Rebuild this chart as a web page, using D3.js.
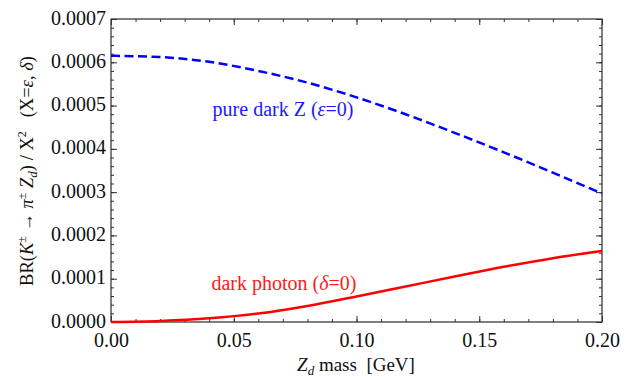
<!DOCTYPE html>
<html>
<head>
<meta charset="utf-8">
<script src="https://cdn.jsdelivr.net/npm/d3@7"></script>
<style>
  body { margin: 0; background: #fff; }
  text { font-family: "Liberation Serif", "Times New Roman", "DejaVu Serif", serif; }
</style>
</head>
<body>
<svg id="drawing_region"></svg>
<script>
// Z_d mass [GeV]
const mass = [0.00, 0.02, 0.04, 0.06, 0.08, 0.10, 0.12, 0.14, 0.16, 0.18, 0.20];
// pure dark Z (eps = 0)
const dark_z = [0.000615, 0.000612, 0.000601, 0.000580, 0.000553, 0.000519, 0.000480, 0.000437, 0.000392, 0.000345, 0.000297];
// dark photon (delta = 0)
const dark_photon = [0.0, 0.0000025, 0.0000085, 0.0000195, 0.0000370, 0.0000590, 0.0000820, 0.0001050, 0.0001275, 0.0001475, 0.0001640];

const x_ticks = [0.00, 0.05, 0.10, 0.15, 0.20];
const y_ticks = [0.0000, 0.0001, 0.0002, 0.0003, 0.0004, 0.0005, 0.0006, 0.0007];

const config = {
    width: 642,
    height: 377,
    margin: { top: 19, right: 40, bottom: 55, left: 111 }
};

const svg = d3.select( '#drawing_region' )
    .attr( 'width', config.width )
    .attr( 'height', config.height );

const chart = svg.append( 'g' )
    .attr( 'transform', `translate(${config.margin.left}, ${config.margin.top})` );

const inner_width = config.width - config.margin.left - config.margin.right;
const inner_height = config.height - config.margin.top - config.margin.bottom;

const xscale = d3.scaleLinear()
    .domain( [ 0, 0.2 ] )
    .range( [ 0, inner_width ] );

const yscale = d3.scaleLinear()
    .domain( [ 0, 0.0007 ] )
    .range( [ inner_height, 0 ] );

const x_minor = d3.range( 0, 21 ).map( i => i * 0.01 );
const y_minor = d3.range( 0, 36 ).map( i => i * 0.00002 );

// frame
chart.append( 'rect' )
    .attr( 'width', inner_width )
    .attr( 'height', inner_height )
    .attr( 'fill', 'none' )
    .attr( 'stroke', '#000' )
    .attr( 'stroke-width', 1 );

function styleAxis( g ) {
    g.attr( 'font-family', null );
    g.select( '.domain' ).remove();
    g.selectAll( '.tick line' ).attr( 'stroke', '#333' ).attr( 'stroke-width', 1 );
    g.selectAll( 'text' )
        .attr( 'font-size', 20 )
        .attr( 'fill', '#111' );
}

// bottom
chart.append( 'g' )
    .attr( 'transform', `translate(0, ${inner_height})` )
    .call( d3.axisBottom( xscale ).tickValues( x_minor ).tickSize( -3 ).tickFormat( '' ) )
    .call( styleAxis );
chart.append( 'g' )
    .attr( 'transform', `translate(0, ${inner_height})` )
    .call( d3.axisBottom( xscale ).tickValues( x_ticks ).tickSize( -6 ).tickPadding( 8 ).tickFormat( d3.format( '.2f' ) ) )
    .call( styleAxis )
    .selectAll( 'text' ).attr( 'dy', '0.85em' );

// top
chart.append( 'g' )
    .call( d3.axisTop( xscale ).tickValues( x_minor ).tickSize( -3 ).tickFormat( '' ) )
    .call( styleAxis );
chart.append( 'g' )
    .call( d3.axisTop( xscale ).tickValues( x_ticks ).tickSize( -6 ).tickFormat( '' ) )
    .call( styleAxis );

// left
chart.append( 'g' )
    .call( d3.axisLeft( yscale ).tickValues( y_minor ).tickSize( -3 ).tickFormat( '' ) )
    .call( styleAxis );
chart.append( 'g' )
    .call( d3.axisLeft( yscale ).tickValues( y_ticks ).tickSize( -6 ).tickPadding( 5 ).tickFormat( d3.format( '.4f' ) ) )
    .call( styleAxis )
    .selectAll( 'text' ).attr( 'dy', '0.25em' );

// right
chart.append( 'g' )
    .attr( 'transform', `translate(${inner_width}, 0)` )
    .call( d3.axisRight( yscale ).tickValues( y_minor ).tickSize( -3 ).tickFormat( '' ) )
    .call( styleAxis );
chart.append( 'g' )
    .attr( 'transform', `translate(${inner_width}, 0)` )
    .call( d3.axisRight( yscale ).tickValues( y_ticks ).tickSize( -6 ).tickFormat( '' ) )
    .call( styleAxis );

// curves
const line = d3.line()
    .x( d => xscale( d[0] ) )
    .y( d => yscale( d[1] ) )
    .curve( d3.curveMonotoneX );

chart.append( 'path' )
    .datum( mass.map( ( m, i ) => [ m, dark_z[i] ] ) )
    .attr( 'd', line )
    .attr( 'fill', 'none' )
    .attr( 'stroke', '#0000ff' )
    .attr( 'stroke-width', 2.5 )
    .attr( 'stroke-dasharray', '9,4.5' );

chart.append( 'path' )
    .datum( mass.map( ( m, i ) => [ m, dark_photon[i] ] ) )
    .attr( 'd', line )
    .attr( 'fill', 'none' )
    .attr( 'stroke', '#ff0000' )
    .attr( 'stroke-width', 2.5 );

// annotations
svg.append( 'text' )
    .attr( 'x', 283 )
    .attr( 'y', 116 )
    .attr( 'text-anchor', 'middle' )
    .attr( 'font-size', 20 )
    .attr( 'fill', '#1a1aff' )
    .html( 'pure dark Z (<tspan font-style="italic">ε</tspan>=0)' );

svg.append( 'text' )
    .attr( 'x', 284 )
    .attr( 'y', 290 )
    .attr( 'text-anchor', 'middle' )
    .attr( 'font-size', 20 )
    .attr( 'fill', '#ff1a1a' )
    .html( 'dark photon (<tspan font-style="italic">δ</tspan>=0)' );

// x label
svg.append( 'text' )
    .attr( 'x', 356 )
    .attr( 'y', 371 )
    .attr( 'text-anchor', 'middle' )
    .attr( 'font-size', 19 )
    .attr( 'fill', '#111' )
    .style( 'white-space', 'pre' )
    .html( '<tspan font-style="italic">Z</tspan><tspan font-style="italic" font-size="13" dy="4">d</tspan><tspan dy="-4"> mass  [GeV]</tspan>' );

// y label
svg.append( 'text' )
    .attr( 'transform', 'translate(33, 171) rotate(-90)' )
    .attr( 'text-anchor', 'middle' )
    .attr( 'font-size', 18.5 )
    .attr( 'fill', '#111' )
    .style( 'white-space', 'pre' )
    .html(
        'BR(<tspan font-style="italic">K</tspan><tspan font-size="12" dy="-7">±</tspan>' +
        '<tspan dy="7"> → </tspan><tspan font-style="italic">π</tspan><tspan font-size="12" dy="-7">±</tspan>' +
        '<tspan dy="7"> </tspan><tspan font-style="italic">Z</tspan><tspan font-style="italic" font-size="13" dy="4">d</tspan>' +
        '<tspan dy="-4">) / X</tspan><tspan font-size="12" dy="-7">2</tspan>' +
        '<tspan dy="7">   (X=</tspan><tspan font-style="italic">ε</tspan>, <tspan font-style="italic">δ</tspan>)'
    );
</script>
</body>
</html>
